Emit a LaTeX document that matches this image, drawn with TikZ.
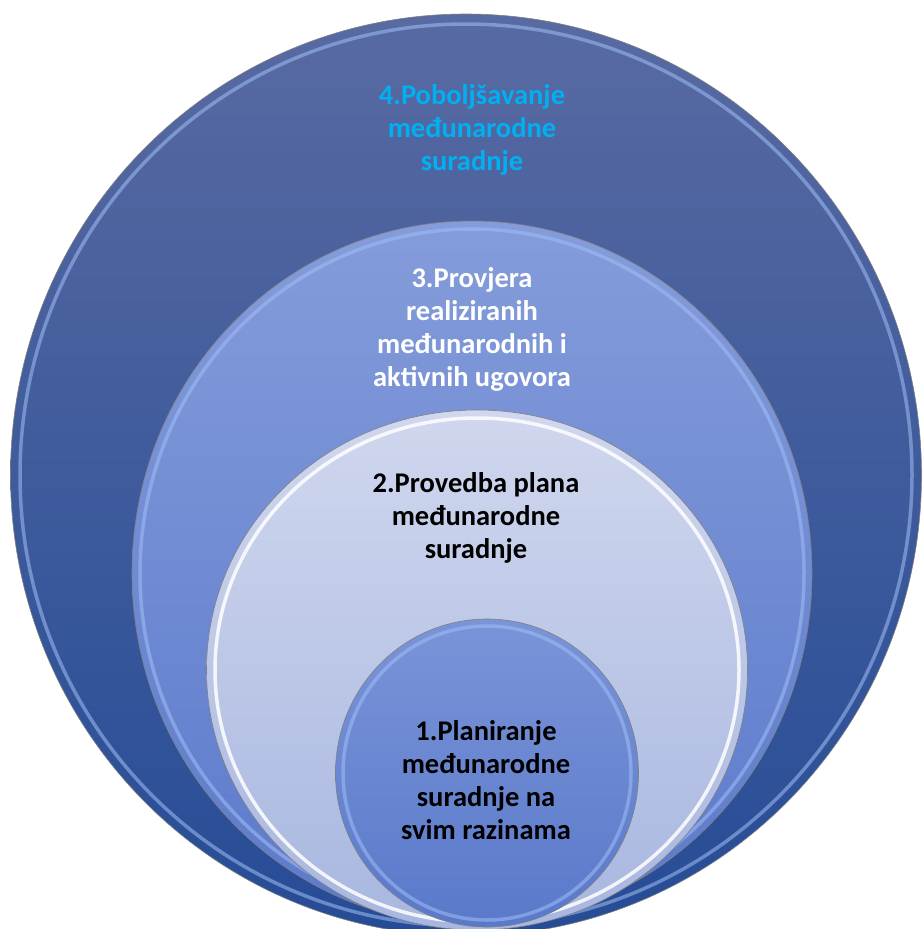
\documentclass[tikz,border=0pt]{standalone}
\usepackage{fontspec}
\setmainfont{Carlito}
\usepackage{tikz}
\usetikzlibrary{shapes.geometric}
\definecolor{fourtop}{RGB}{88,106,162}
\definecolor{fourmid}{RGB}{52,87,158}
\definecolor{fourbot}{RGB}{38,76,150}
\definecolor{threetop}{RGB}{132,156,218}
\definecolor{threebot}{RGB}{92,122,204}
\definecolor{twotop}{RGB}{208,215,238}
\definecolor{twobot}{RGB}{168,183,224}
\definecolor{onetop}{RGB}{122,148,216}
\definecolor{onebot}{RGB}{90,121,202}
\definecolor{fourtext}{RGB}{0,176,240}
\definecolor{rimblue}{RGB}{160,190,245}
\tikzstyle{ring}=[ellipse, draw=black!50, line width=0.6pt, inner sep=0pt]
\tikzstyle{glint}=[draw=rimblue, line width=3.5pt, opacity=0.55]
\tikzstyle{ringtext}=[align=center, inner sep=0pt, font=\fontsize{28.5}{33}\selectfont\bfseries]

\begin{document}
\begin{tikzpicture}[x=1pt, y=-1pt]
        \useasboundingbox (0,0) rectangle (922,929);
        % rings, outer to inner
        \node[ring, top color=fourtop, middle color=fourmid, bottom color=fourbot, minimum width=911pt, minimum height=922pt] (R4) at (466,475) {};
        \draw[glint] (R4.center) ellipse [x radius=446, y radius=451];
        \node[ring, top color=threetop, bottom color=threebot, minimum width=680pt, minimum height=704pt] (R3) at (472,573) {};
        \draw[glint] (R3.center) ellipse [x radius=332, y radius=344];
        \node[ring, top color=twotop, bottom color=twobot, minimum width=541pt, minimum height=520pt] (R2) at (477,670) {};
        \draw[glint, draw=white, opacity=0.85, line width=3.5pt] (R2.center) ellipse [x radius=262, y radius=252];
        \node[ring, top color=onetop, bottom color=onebot, minimum width=303pt, minimum height=308pt] (R1) at (487,773) {};
        \draw[glint] (R1.center) ellipse [x radius=144, y radius=147];
        % texts
        \node[ringtext, text=fourtext] (T4) at (472,130) {4.Poboljšavanje\\međunarodne\\suradnje};
        \node[ringtext, text=white] (T3) at (472,329) {3.Provjera\\realiziranih\\međunarodnih i\\aktivnih ugovora};
        \node[ringtext, text=black] (T2) at (476,518) {2.Provedba plana\\međunarodne\\suradnje};
        \node[ringtext, text=black] (T1) at (486,780) {1.Planiranje\\međunarodne\\suradnje na\\svim razinama};
    \end{tikzpicture}
\end{document}
